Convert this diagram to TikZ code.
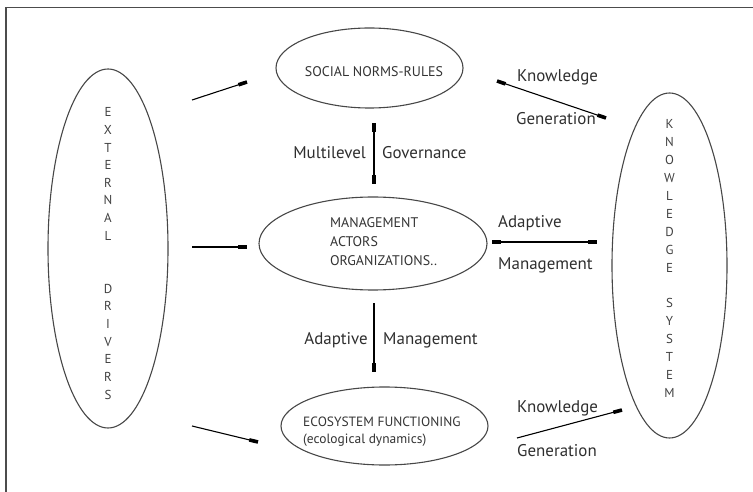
\documentclass[tikz,border=0pt]{standalone}
\usepackage{fontspec}
\setmainfont{PT Sans}
\usetikzlibrary{positioning,shapes.geometric,arrows.meta}

\tikzset{
  bubble/.style={ellipse,draw=black!72,line width=1.1bp,inner sep=0pt,text=black!80},
  intext/.style={inner sep=0pt,text=black!80,font=\fontsize{14}{19}\selectfont},
  vtext/.style={inner sep=0pt,text=black!75,align=center},
  link/.style={line width=1.1bp,black},
  tip/.style={-{Rectangle[length=9bp,width=3.6bp]}},
  tips/.style={{Rectangle[length=9bp,width=3.6bp]}-{Rectangle[length=9bp,width=3.6bp]}},
  lbl/.style={inner sep=0pt,text=black!82,font=\fontsize{17}{19}\selectfont},
}

\begin{document}
\begin{tikzpicture}[x=1bp,y=-1bp]
\useasboundingbox (0,0) rectangle (753,492);
% frame (only top and left edges show)
\draw[black!70,line width=1.6bp] (753,7.5) -- (6,7.5) -- (6,492);

% the five bubbles
\node[bubble,minimum width=120bp,minimum height=359bp] (ext) at (108,248.5) {};
\node[vtext,font=\fontsize{13}{17.7}\selectfont] (exttxt) at (108,253.5)
  {E\\X\\T\\E\\R\\N\\A\\L\\[35.4bp]D\\R\\I\\V\\E\\R\\S};
\node[bubble,minimum width=115bp,minimum height=345bp] (know) at (669.5,265.5) {};
\node[vtext,font=\fontsize{13}{18.1}\selectfont] (knowtxt) at (669.5,258.5)
  {K\\N\\O\\W\\L\\E\\D\\G\\E\\[17bp]S\\Y\\S\\T\\E\\M};
\node[bubble,minimum width=187bp,minimum height=80bp] (social) at (369.5,68) {};
\node[intext] (socialtxt) at (374,72) {SOCIAL NORMS-RULES};
\node[bubble,minimum width=228bp,minimum height=93bp] (mgmt) at (373,243.5) {};
\node[intext,align=left,anchor=west] (mgmttxt) at (330,242)
  {MANAGEMENT\\ACTORS\\ORGANIZATIONS..};
\node[bubble,minimum width=207bp,minimum height=78bp] (eco) at (384.5,426) {};
\node[intext,align=left,anchor=west,font=\fontsize{13.5}{17.5}\selectfont] (ecotxt) at (303,431.5)
  {ECOSYSTEM FUNCTIONING\\(ecological dynamics)};

% arrow ends
\coordinate (ext-a) at (192,100);   \coordinate (social-a) at (247,82);
\coordinate (ext-b) at (192,247);   \coordinate (mgmt-b) at (247,247);
\coordinate (ext-c) at (192,426);   \coordinate (eco-c) at (258,442);
\coordinate (social-d) at (374,123); \coordinate (mgmt-d) at (374,184);
\coordinate (mgmt-e) at (374,303);  \coordinate (eco-e) at (374,372);
\coordinate (mgmt-f) at (492,242);  \coordinate (know-f) at (597,242);
\coordinate (social-g) at (497,81); \coordinate (know-g) at (606,118);
\coordinate (eco-h) at (517,438);   \coordinate (know-h) at (622,410);

\draw[link,tip] (ext-a) -- (social-a);
\draw[link,tip] (ext-b) -- (mgmt-b);
\draw[link,tip] (ext-c) -- (eco-c);
\draw[link,tips] (social-d) -- (mgmt-d);
\draw[link,tip] (mgmt-e) -- (eco-e);
\draw[link,tips] (mgmt-f) -- (know-f);
\draw[link,tips] (social-g) -- (know-g);
\draw[link,tip] (eco-h) -- (know-h);

% labels on the links
\node[lbl,anchor=east] (mlv) at (366,153) {Multilevel};
\node[lbl,anchor=west] (gov) at (382,153) {Governance};
\node[lbl,anchor=east] (adapt1) at (368,340) {Adaptive};
\node[lbl,anchor=west] (manag1) at (383,340) {Management};
\node[lbl,anchor=west] (adapt2) at (498,223) {Adaptive};
\node[lbl,anchor=west] (manag2) at (498,265) {Management};
\node[lbl,anchor=west] (know1) at (517,77) {Knowledge};
\node[lbl,anchor=west] (gen1) at (516,119) {Generation};
\node[lbl,anchor=west] (know2) at (517,408) {Knowledge};
\node[lbl,anchor=west] (gen2) at (517,451) {Generation};
\end{tikzpicture}
\end{document}
